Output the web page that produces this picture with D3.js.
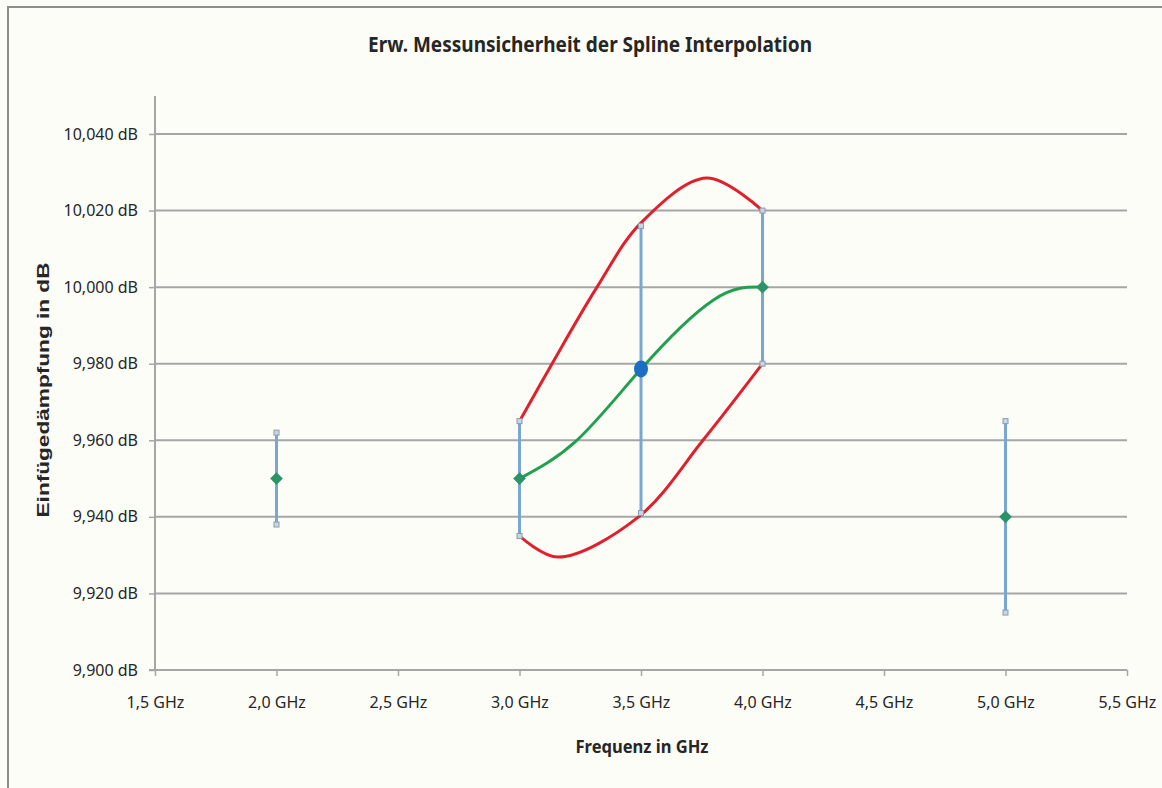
<!DOCTYPE html>
<html>
<head>
<meta charset="utf-8">
<script src="https://cdn.jsdelivr.net/npm/d3@7"></script>
<style>
  body { margin: 0; background: #fdfdf8; }
  svg { display: block; }
  .lbl { font-family: "Liberation Sans Narrow", "Noto Sans", sans-serif; fill: #262626; }
</style>
</head>
<body>
<div id="chart"></div>
<script>
// Global: d3

// Measured points (frequency in GHz, attenuation in dB)
let freqs = [2.0, 3.0, 3.5, 4.0, 5.0];
let values = [9.950, 9.950, 9.9786, 10.000, 9.940];
let errLow = [9.938, 9.935, 9.941, 9.980, 9.915];
let errHigh = [9.962, 9.965, 10.016, 10.020, 9.965];

// Interpolated value at 3.5 GHz
let interpFreq = 3.5;
let interpValue = 9.9786;

// Spline curve
let splineFreq = [3.0, 3.236, 3.5, 3.797, 4.0];
let splineVal = [9.950, 9.960, 9.9786, 9.9966, 10.000];

// Upper / lower uncertainty bounds
let upperFreq = [3.0, 3.134, 3.319, 3.5, 3.77, 4.0];
let upperVal = [9.965, 9.980, 10.000, 10.0168, 10.0285, 10.020];
let lowerFreq = [3.0, 3.158, 3.49, 3.755, 4.0];
let lowerVal = [9.935, 9.9295, 9.940, 9.960, 9.980];

let xTicks = [1.5, 2.0, 2.5, 3.0, 3.5, 4.0, 4.5, 5.0, 5.5];
let yTicks = [9.900, 9.920, 9.940, 9.960, 9.980, 10.000, 10.020, 10.040];

let width = 1162;
let height = 788;

let svg = d3.select('#chart').append('svg')
  .attr('width', width)
  .attr('height', height);

// frame
svg.append('rect')
  .attr('x', 8).attr('y', 7)
  .attr('width', width).attr('height', height)
  .attr('fill', '#fdfdf8')
  .attr('stroke', '#8c8c8c')
  .attr('stroke-width', 2);

let x = d3.scaleLinear().domain([1.5, 5.5]).range([155, 1127]);
let y = d3.scaleLinear().domain([9.900, 10.040]).range([670, 134]);

const fmt = v => v.toFixed(3).replace('.', ',');

// gridlines
svg.append('g')
  .selectAll('line')
  .data(yTicks.slice(1))
  .enter()
    .append('line')
    .attr('x1', x(1.5)).attr('x2', x(5.5))
    .attr('y1', d => y(d)).attr('y2', d => y(d))
    .attr('stroke', '#a6a6a6')
    .attr('stroke-width', 2);

// y axis
let yAxis = svg.append('g')
  .attr('transform', `translate(${x(1.5)},0)`)
  .call(d3.axisLeft(y).tickValues(yTicks).tickSize(6).tickFormat(d => fmt(d) + ' dB'));
yAxis.select('.domain').attr('stroke', '#a6a6a6').attr('stroke-width', 2)
  .attr('d', `M0,${y(10.040) - 38}V${y(9.900)}`);
yAxis.selectAll('.tick line').attr('stroke', '#a6a6a6').attr('stroke-width', 1.5);
yAxis.selectAll('.tick text')
  .attr('class', 'lbl')
  .attr('x', -17)
  .style('font-size', '16px');

// x axis
let xAxis = svg.append('g')
  .attr('transform', `translate(0,${y(9.900)})`)
  .call(d3.axisBottom(x).tickValues(xTicks).tickSize(6).tickFormat(d => d.toFixed(1).replace('.', ',') + ' GHz'));
xAxis.select('.domain').attr('stroke', '#a6a6a6').attr('stroke-width', 2)
  .attr('d', `M${x(1.5) - 6},0H${x(5.5)}`);
xAxis.selectAll('.tick line').attr('stroke', '#a6a6a6').attr('stroke-width', 1.5);
xAxis.selectAll('.tick text')
  .attr('class', 'lbl')
  .attr('y', 27)
  .style('font-size', '16px');

// curves
let line = d3.line()
  .x(d => x(d[0]))
  .y(d => y(d[1]))
  .curve(d3.curveCatmullRom);

svg.append('path')
  .datum(d3.zip(upperFreq, upperVal))
  .attr('d', line)
  .attr('fill', 'none')
  .attr('stroke', '#e0202c')
  .attr('stroke-width', 3);

svg.append('path')
  .datum(d3.zip(lowerFreq, lowerVal))
  .attr('d', line)
  .attr('fill', 'none')
  .attr('stroke', '#e0202c')
  .attr('stroke-width', 3);

// error bars
let pts = freqs.map((f, i) => ({ f: f, v: values[i], lo: errLow[i], hi: errHigh[i] }));
let bars = svg.append('g').selectAll('g.err')
  .data(pts)
  .enter()
    .append('g')
    .classed('err', true);

bars.append('line')
  .attr('x1', d => x(d.f)).attr('x2', d => x(d.f))
  .attr('y1', d => y(d.lo)).attr('y2', d => y(d.hi))
  .attr('stroke', '#7aa6d2')
  .attr('stroke-width', 3);

bars.selectAll('rect')
  .data(d => [[d.f, d.lo], [d.f, d.hi]])
  .enter()
    .append('rect')
    .attr('x', d => x(d[0]) - 2.5).attr('y', d => y(d[1]) - 2.5)
    .attr('width', 5).attr('height', 5)
    .attr('fill', '#c9d6e4')
    .attr('stroke', '#8a9cb0')
    .attr('stroke-width', 1);

// green spline
svg.append('path')
  .datum(d3.zip(splineFreq, splineVal))
  .attr('d', line.curve(d3.curveNatural))
  .attr('fill', 'none')
  .attr('stroke', '#22a050')
  .attr('stroke-width', 3);

// diamond markers
svg.append('g').selectAll('path')
  .data(pts)
  .enter()
    .append('path')
    .attr('transform', d => `translate(${x(d.f)},${y(d.v)}) rotate(45)`)
    .attr('d', 'M-4.5,-4.5H4.5V4.5H-4.5Z')
    .attr('fill', '#2a9468');

// interpolated point
svg.append('ellipse')
  .attr('cx', x(interpFreq))
  .attr('cy', y(interpValue))
  .attr('rx', 7).attr('ry', 8.5)
  .attr('fill', '#1b6ec2');

// title
svg.append('text')
  .attr('class', 'lbl')
  .attr('x', 590).attr('y', 52)
  .attr('text-anchor', 'middle')
  .attr('textLength', 444)
  .attr('lengthAdjust', 'spacingAndGlyphs')
  .style('font-size', '21px')
  .style('font-weight', 'bold')
  .text('Erw. Messunsicherheit der Spline Interpolation');

// axis titles
svg.append('text')
  .attr('class', 'lbl')
  .attr('x', 642).attr('y', 753)
  .attr('text-anchor', 'middle')
  .attr('textLength', 133)
  .attr('lengthAdjust', 'spacingAndGlyphs')
  .style('font-size', '17px')
  .style('font-weight', 'bold')
  .text('Frequenz in GHz');

svg.append('text')
  .attr('transform', 'translate(49,390) rotate(-90)')
  .attr('text-anchor', 'middle')
  .attr('textLength', 255)
  .attr('lengthAdjust', 'spacingAndGlyphs')
  .style('font-family', '"Liberation Sans", Arial, sans-serif')
  .style('font-size', '17px')
  .style('font-weight', 'bold')
  .style('fill', '#262626')
  .text('Einfügedämpfung  in dB');
</script>
</body>
</html>
